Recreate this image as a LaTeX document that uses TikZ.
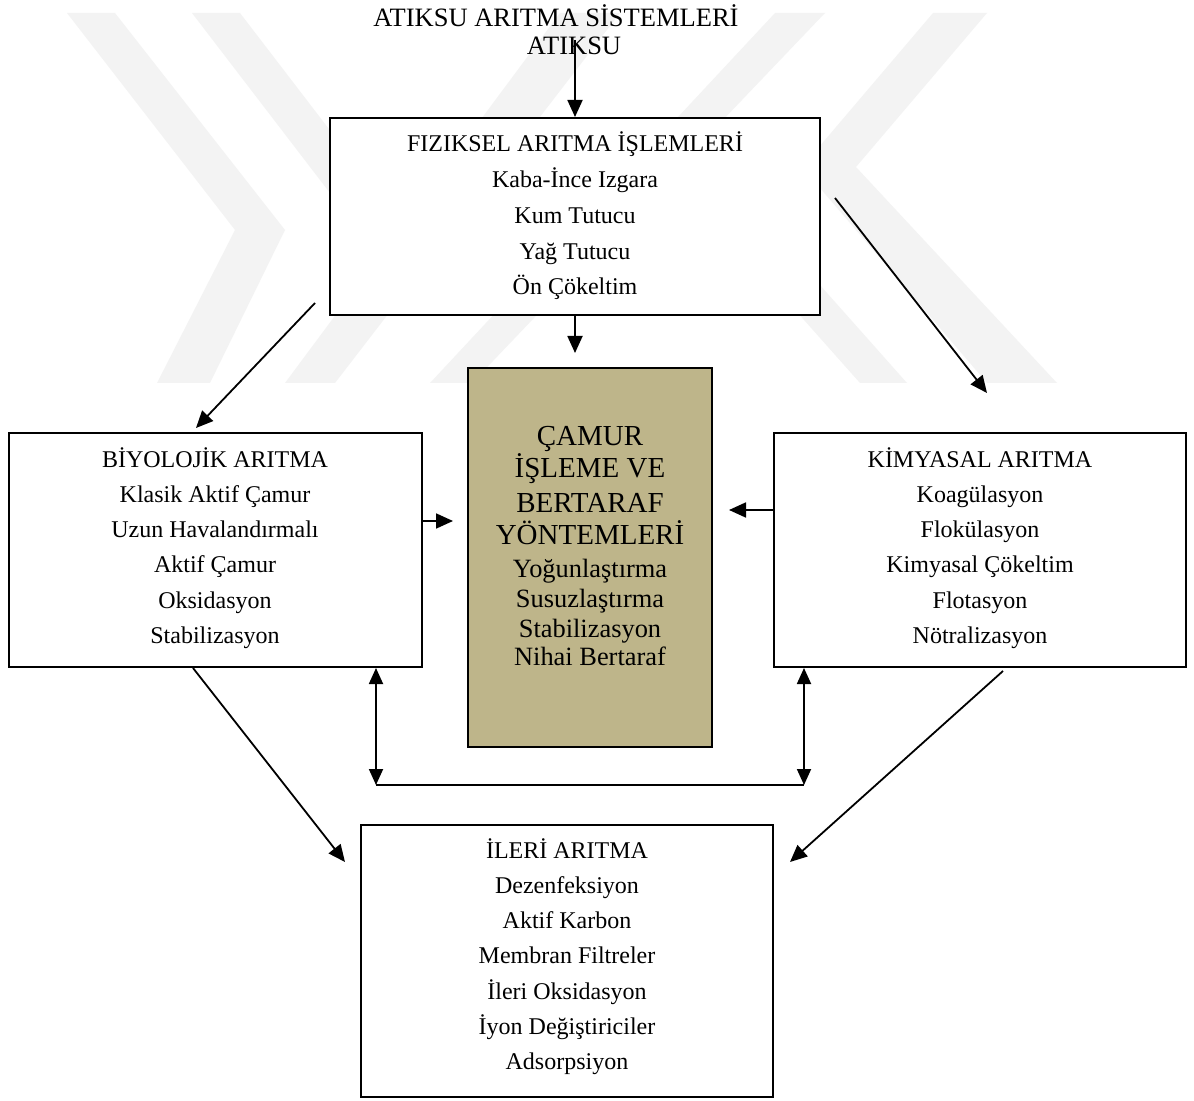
\documentclass[tikz,border=0pt]{standalone}
\usepackage{fontspec}
\setmainfont{Liberation Serif}
\usetikzlibrary{arrows.meta}
\definecolor{camfill}{RGB}{190,181,138}
\definecolor{wm}{RGB}{243,243,243}
\begin{document}
\begin{tikzpicture}[x=0.5pt,y=-0.5pt,
  box/.style={draw=black, line width=1pt, fill=white, inner sep=0pt},
  txt/.style={anchor=base, inner sep=0pt, font=\fontsize{12pt}{14pt}\selectfont},
  ttl/.style={anchor=base, inner sep=0pt, font=\fontsize{13.25pt}{15pt}\selectfont},
  bigtxt/.style={anchor=base, inner sep=0pt, font=\fontsize{14.5pt}{16pt}\selectfont},
  midtxt/.style={anchor=base, inner sep=0pt, font=\fontsize{13.2pt}{15pt}\selectfont},
  arr/.style={line width=0.9pt, -{Triangle[length=8.5pt,width=7.5pt]}},
  darr/.style={line width=0.9pt, {Triangle[length=8pt,width=7pt]}-{Triangle[length=8pt,width=7pt]}},
]
\fill[white] (0,0) rectangle (1194,1101);
\useasboundingbox (0,0) rectangle (1194,1101);

% faint watermark
\fill[wm] (67,13) -- (115,13) -- (285,230) -- (210,383) -- (157,383) -- (235,230) -- cycle;
\fill[wm] (192,13) -- (240,13) -- (460,300) -- (412,300) -- cycle;
\fill[wm] (560,13) -- (620,13) -- (335,383) -- (285,383) -- cycle;
\fill[wm] (775,13) -- (825,13) -- (472,383) -- (430,383) -- cycle;
\fill[wm] (933,13) -- (987,13) -- (856,167) -- (1057,383) -- (987,383) -- (802,167) -- cycle;
\fill[wm] (860,383) -- (907,383) -- (700,150) -- (653,150) -- cycle;

% title
\node[ttl] (title) at (556,27) {ATIKSU ARITMA SİSTEMLERİ};
\node[ttl] (atiksu) at (574,55) {ATIKSU};

% boxes
\node[box, minimum width=245pt, minimum height=98.5pt] (fiz) at (575,216.5) {};
\node[box, minimum width=206.5pt, minimum height=117pt] (bio) at (215.5,550) {};
\node[box, minimum width=206pt, minimum height=117pt] (kim) at (980,550) {};
\node[box, fill=camfill, minimum width=122pt, minimum height=189.5pt] (cam) at (590,557.5) {};
\node[box, minimum width=206pt, minimum height=136pt] (ileri) at (567,961) {};

% texts
\foreach \t [count=\i] in {FIZIKSEL ARITMA İŞLEMLERİ, Kaba-İnce Izgara, Kum Tutucu, Yağ Tutucu, Ön Çökeltim}
  \node[txt] (fiz-\i) at (575,{152+35.75*(\i-1)}) {\t};
\foreach \t [count=\i] in {BİYOLOJİK ARITMA, Klasik Aktif Çamur, Uzun Havalandırmalı, Aktif Çamur, Oksidasyon, Stabilizasyon}
  \node[txt] (bio-\i) at (215,{467+35.3*(\i-1)}) {\t};
\foreach \t [count=\i] in {KİMYASAL ARITMA, Koagülasyon, Flokülasyon, Kimyasal Çökeltim, Flotasyon, Nötralizasyon}
  \node[txt] (kim-\i) at (980,{467+35.3*(\i-1)}) {\t};
\foreach \t [count=\i] in {İLERİ ARITMA, Dezenfeksiyon, Aktif Karbon, Membran Filtreler, İleri Oksidasyon, İyon Değiştiriciler, Adsorpsiyon}
  \node[txt] (ileri-\i) at (567,{858+35.3*(\i-1)}) {\t};
\foreach \t/\yy [count=\i] in {ÇAMUR/445, İŞLEME VE/478, BERTARAF/512, YÖNTEMLERİ/545}
  \node[bigtxt] (cam-\i) at (590,\yy) {\t};
\foreach \t/\yy [count=\i] in {Yoğunlaştırma/577, Susuzlaştırma/607, Stabilizasyon/637, Nihai Bertaraf/665}
  \node[midtxt] (camb-\i) at (590,\yy) {\t};

% connector end points
\coordinate (a0) at (575,40);
\coordinate (camin) at (575,353);
\coordinate (f2b) at (315,303);
\coordinate (bin) at (196,428);
\coordinate (f2k) at (835,198);
\coordinate (kin) at (987,393);
\coordinate (bc) at (453,521);
\coordinate (kc) at (729,510);
\coordinate (b2i) at (193,668);
\coordinate (iinl) at (345,862);
\coordinate (k2i) at (1003,671);
\coordinate (iinr) at (790,862);
\coordinate (lt) at (376,668);
\coordinate (lb) at (376,785);
\coordinate (rt) at (804,668);
\coordinate (rb) at (804,785);

% connectors
\draw[arr] (a0) -- (fiz.north);
\draw[arr] (fiz.south) -- (camin);
\draw[arr] (f2b) -- (bin);
\draw[arr] (f2k) -- (kin);
\draw[arr] (bc -| bio.east) -- (bc);
\draw[arr] (kc -| kim.west) -- (kc);
\draw[arr] (b2i) -- (iinl);
\draw[arr] (k2i) -- (iinr);
\draw[darr] (lt) -- (lb);
\draw[darr] (rt) -- (rb);
\draw[line width=0.7pt] (lb) -- (rb);
\end{tikzpicture}
\end{document}
